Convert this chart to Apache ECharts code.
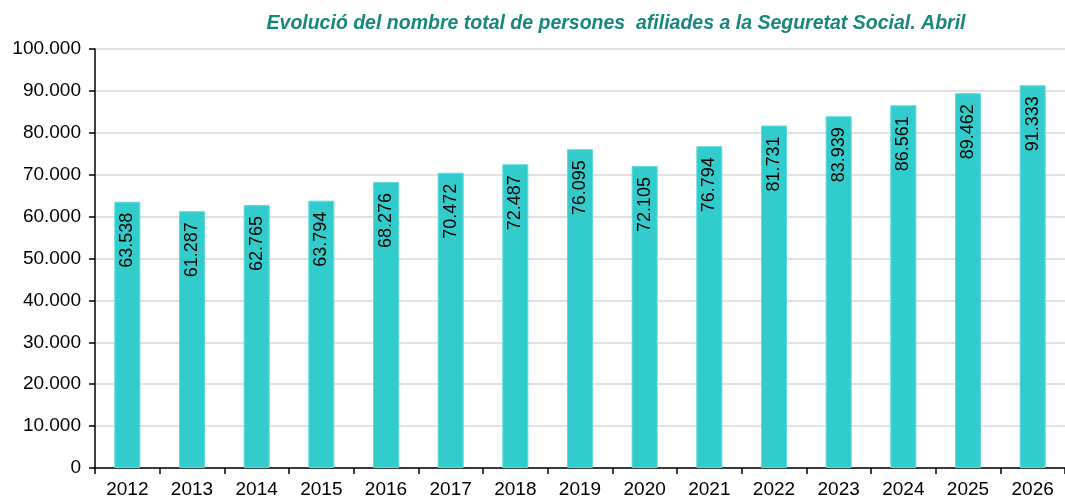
<!DOCTYPE html>
<html>
<head>
<meta charset="utf-8">
<script src="https://cdn.jsdelivr.net/npm/echarts@6/dist/echarts.min.js"></script>
<style>
  html, body { margin: 0; padding: 0; background: #fff; }
  #chart { width: 1065px; height: 499px; }
</style>
</head>
<body>
<div id="chart"></div>
<script>
  var years = ['2012', '2013', '2014', '2015', '2016', '2017', '2018', '2019',
               '2020', '2021', '2022', '2023', '2024', '2025', '2026'];
  var afiliats = [63538, 61287, 62765, 63794, 68276, 70472, 72487, 76095,
                  72105, 76794, 81731, 83939, 86561, 89462, 91333];

  function fmt(v) {
    return String(v).replace(/\B(?=(\d{3})+(?!\d))/g, '.');
  }

  var myChart = echarts.init(document.getElementById('chart'));
  var option = {
    animation: false,
    textStyle: { fontFamily: 'Liberation Sans, Arial, sans-serif' },
    title: {
      text: 'Evolució del nombre total de persones  afiliades a la Seguretat Social. Abril',
      left: 611,
      textAlign: 'center',
      top: 9,
      textStyle: {
        color: '#17877e',
        fontSize: 19.5,
        fontWeight: 'bold',
        fontStyle: 'italic',
        fontFamily: 'Liberation Sans, Arial, sans-serif'
      }
    },
    grid: { left: 95, top: 49, width: 978, height: 420 },
    xAxis: {
      type: 'category',
      data: years,
      axisLine: { lineStyle: { color: '#000', width: 1.5 } },
      axisTick: { show: true, length: 6, lineStyle: { color: '#000', width: 1.5 } },
      axisLabel: { color: '#000', fontSize: 19, margin: 12 }
    },
    yAxis: {
      type: 'value',
      min: 0,
      max: 100000,
      interval: 10000,
      axisLine: { show: true, lineStyle: { color: '#000', width: 1.5 } },
      axisTick: { show: true, length: 6, lineStyle: { color: '#000', width: 1.5 } },
      axisLabel: { color: '#000', fontSize: 19, margin: 14, formatter: fmt },
      splitLine: { lineStyle: { color: '#d9d9d9', width: 1.5 } }
    },
    series: [{
      type: 'bar',
      data: afiliats,
      barWidth: 26,
      itemStyle: { color: '#33cccc', borderColor: '#5fd8d8', borderWidth: 1 },
      label: {
        show: true,
        position: 'insideTop',
        distance: 11,
        rotate: 90,
        align: 'right',
        verticalAlign: 'middle',
        color: '#000',
        fontSize: 18,
        formatter: function (p) { return fmt(p.value); }
      }
    }]
  };
  myChart.setOption(option);
</script>
</body>
</html>
